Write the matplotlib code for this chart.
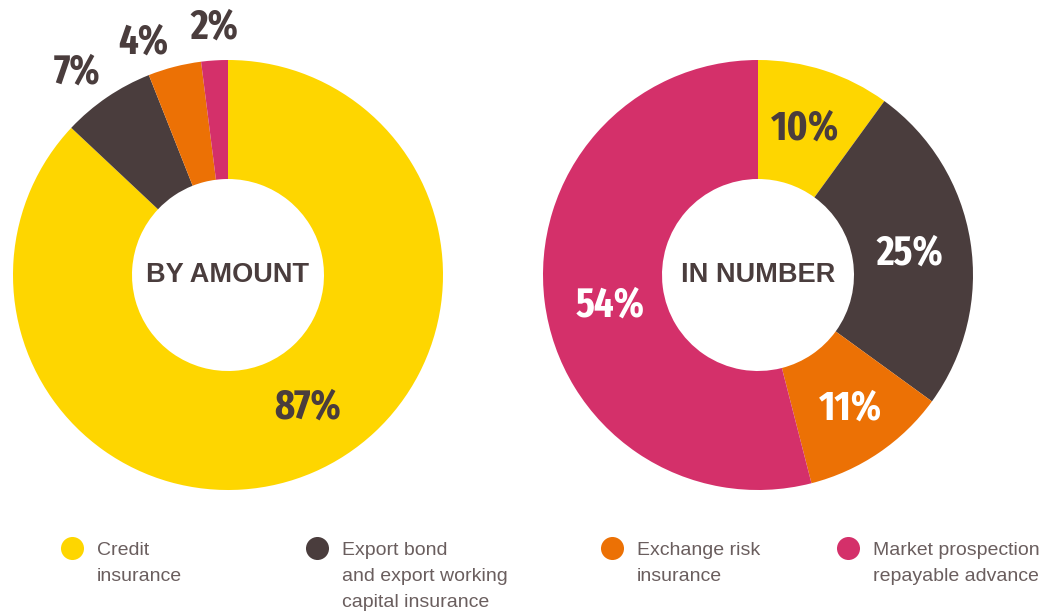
import numpy as np
import matplotlib.pyplot as plt

# Donnees
categories = ["Credit\ninsurance",
              "Export bond\nand export working\ncapital insurance",
              "Exchange risk\ninsurance",
              "Market prospection\nrepayable advance"]
by_amount = [87, 7, 4, 2]
in_number = [10, 25, 11, 54]
colors = ["#FED600", "#4A3D3D", "#EC7105", "#D4306A"]
brown = "#4A3D3D"

W, H = 1061, 615
fig = plt.figure(figsize=(W / 100, H / 100), dpi=100)
ax = fig.add_axes([0, 0, 1, 1])

pct_font = dict(family=["Fira Sans Extra Condensed", "DejaVu Sans"], fontweight=700, fontsize=30)


# nudge : (decalage angulaire en degres, rayon du label)
def donut(values, center, title, nudges, text_colors):
	wedges, _ = ax.pie(values, colors=colors, startangle=90, counterclock=False,
	                   center=center, radius=215, frame=True,
	                   wedgeprops=dict(width=119, linewidth=0))
	for w, v, (dth, r), tc in zip(wedges, values, nudges, text_colors):
		mid = np.deg2rad((w.theta1 + w.theta2) / 2 + dth)
		ax.text(center[0] + r * np.cos(mid), center[1] + r * np.sin(mid), f"{v}%",
		        ha="center", va="center", color=tc, **pct_font)
	ax.text(center[0], center[1], title, ha="center", va="center", color=brown,
	        fontsize=19.5, fontweight="bold", family="Liberation Sans")


donut(by_amount, (228, H - 275), "BY AMOUNT", [(7.6, 154), (2.4, 253), (5.6, 248), (-0.4, 248)],
      [brown, brown, brown, brown])
donut(in_number, (758, H - 275), "IN NUMBER", [(0.3, 154), (-1, 153), (0.5, 162), (4.2, 151)],
      [brown, "white", "white", "white"])
ax.set_xlim(0, W)
ax.set_ylim(0, H)
ax.set_aspect("equal")
ax.axis("off")

# Legende
leg_x = [72, 317, 612, 848]
for x, c, lab in zip(leg_x, colors, categories):
	ax.scatter([x], [H - 548], s=275, color=c, linewidths=0)
	ax.text(x + 25, H - 542, lab, ha="left", va="top", color="#6A5E5E",
	        fontsize=14, family="Liberation Sans", linespacing=1.7)

fig.savefig("out.png", dpi=100, facecolor="white")
